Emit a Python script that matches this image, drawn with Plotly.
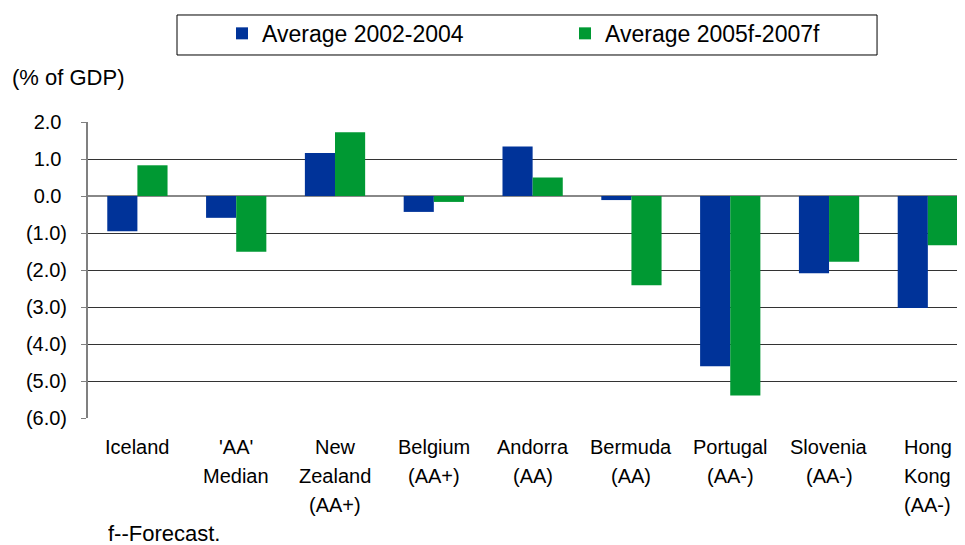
import plotly.graph_objects as go

categories = ["Iceland", "'AA'\nMedian", "New\nZealand\n(AA+)", "Belgium\n(AA+)",
              "Andorra\n(AA)", "Bermuda\n(AA)", "Portugal\n(AA-)", "Slovenia\n(AA-)",
              "Hong\nKong\n(AA-)"]
avg_2002_2004 = [-0.95, -0.59, 1.16, -0.43, 1.34, -0.11, -4.60, -2.09, -3.03]
avg_2005_2007 = [0.83, -1.51, 1.72, -0.16, 0.50, -2.41, -5.39, -1.78, -1.33]
ytick_vals = [2, 1, 0, -1, -2, -3, -4, -5, -6]

FONT = "Liberation Sans, Arial, sans-serif"
BLUE = "#003399"
GREEN = "#009933"


def fmt_tick(v):
    if v < 0:
        return f"({abs(v):.1f})"
    return f"{v:.1f}\u00a0"


keys = [c.replace("\n", " ") for c in categories]
xrange_ = [-0.5, 8.376]

fig = go.Figure()
fig.add_trace(go.Bar(x=keys, y=avg_2002_2004, name="Average 2002-2004",
                     marker_color=BLUE, marker_line_width=0))
fig.add_trace(go.Bar(x=keys, y=avg_2005_2007, name="Average 2005f-2007f",
                     marker_color=GREEN, marker_line_width=0))

# category labels, one annotation per line so the line spacing matches
anns = []
for k, c in zip(keys, categories):
    for i, line in enumerate(c.split("\n")):
        anns.append(dict(x=k, xref="x", y=0, yref="paper", yanchor="top",
                         yshift=-16 - 29 * i, text=line, showarrow=False,
                         font=dict(size=20, color="black", family=FONT)))
anns.append(dict(x=-0.089, xref="paper", y=1.152, yref="paper", xanchor="left",
                 yanchor="middle", text="(% of GDP)", showarrow=False,
                 font=dict(size=22, color="black", family=FONT)))
anns.append(dict(x=0.022, xref="paper", y=-0.3885, yref="paper", xanchor="left",
                 yanchor="middle", text="f--Forecast.", showarrow=False,
                 height=22, borderpad=0,
                 font=dict(size=22, color="black", family=FONT)))

fig.update_layout(
    width=957, height=537,
    margin=dict(l=80, r=0, t=114, b=127),
    paper_bgcolor="white", plot_bgcolor="white",
    font=dict(family=FONT, color="black"),
    barmode="group", bargap=0.39, bargroupgap=0,
    showlegend=True,
    legend=dict(orientation="h", x=0.1528, y=1.372, xanchor="left", yanchor="top",
                borderwidth=0, bgcolor="rgba(0,0,0,0)",
                entrywidth=298, entrywidthmode="pixels", itemwidth=30,
                font=dict(size=23, family=FONT)),
    shapes=[dict(type="rect", xref="paper", yref="paper",
                 x0=0.1015, x1=0.8997, y0=1.2264, y1=1.3615,
                 line=dict(color="black", width=1))],
    xaxis=dict(type="category", range=xrange_, showticklabels=False, ticks="",
               showgrid=False, showline=False, zeroline=False),
    xaxis2=dict(overlaying="x", anchor="free", position=0.75, side="bottom",
                range=xrange_, tickvals=[b + 0.5 for b in range(-1, 8)],
                ticks="outside", ticklen=6, tickwidth=2, tickcolor="#808080",
                showticklabels=False, showgrid=False, showline=False, zeroline=False),
    yaxis=dict(range=[-6, 2], tickvals=ytick_vals,
               ticktext=[fmt_tick(v) for v in ytick_vals],
               ticks="outside", ticklen=5, tickcolor="#808080", tickwidth=1,
               ticklabelstandoff=10,
               showline=True, linecolor="#808080", linewidth=2,
               showgrid=True, gridcolor="#333333", gridwidth=1,
               zeroline=True, zerolinecolor="#888888", zerolinewidth=2,
               tickfont=dict(size=20, family=FONT, color="black")),
    annotations=anns,
)

fig.write_html("out.html")
